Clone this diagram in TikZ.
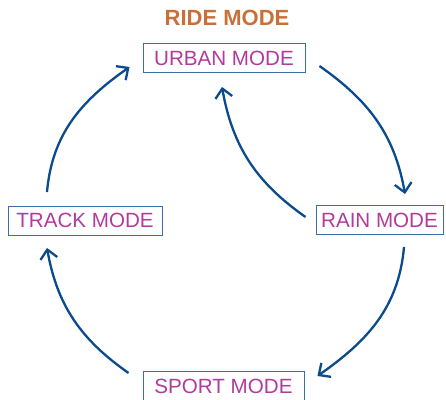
\documentclass[tikz,border=0pt]{standalone}
\usepackage{fontspec}
\setmainfont{Liberation Sans}
\usetikzlibrary{arrows.meta}
\definecolor{modetext}{HTML}{B23A9C}
\definecolor{boxline}{HTML}{3D6FA6}
\definecolor{arrowblue}{HTML}{0B4A8C}
\definecolor{titleorange}{HTML}{C8703A}
\begin{document}
\begin{tikzpicture}[x=1pt,y=1pt,
  modebox/.style={draw=boxline, line width=0.9pt, inner sep=0pt, text=modetext,
    font=\fontsize{20.6}{20.6}\selectfont, minimum height=29pt},
  flow/.style={draw=arrowblue, line width=2.3pt,
    -{Straight Barb[length=9pt,width=17pt,line width=2.3pt]}}]
\useasboundingbox (0,0) rectangle (446,399);
\node[font=\fontsize{22}{22}\selectfont\bfseries, text=titleorange] (title) at (227,381) {RIDE MODE};
\node[modebox, minimum width=162pt] (urban) at (224,341) {URBAN MODE};
\node[modebox, minimum width=154pt] (track) at (85,178.5) {TRACK MODE};
\node[modebox, minimum width=127pt] (rain) at (379.5,179) {RAIN MODE};
\node[modebox, minimum width=161pt, minimum height=30pt] (sport) at (223.5,13) {SPORT MODE};
\draw[flow] ([shift={(14,-8)}]urban.east) to[out=-35,in=100] ([shift={(25.5,11)}]rain.north);
\draw[flow] ([shift={(-10,3)}]rain.west) to[out=145,in=-80] ([shift={(-2,-14)}]urban.south);
\draw[flow] ([shift={(24.5,-12)}]rain.south) to[out=-95,in=35] ([shift={(13,10)}]sport.east);
\draw[flow] ([shift={(-14,13)}]sport.west) to[out=145,in=-80] ([shift={(-38,-12.5)}]track.south);
\draw[flow] ([shift={(-38,13.5)}]track.north) to[out=85,in=-145] ([shift={(-13,-9)}]urban.west);
\end{tikzpicture}
\end{document}
